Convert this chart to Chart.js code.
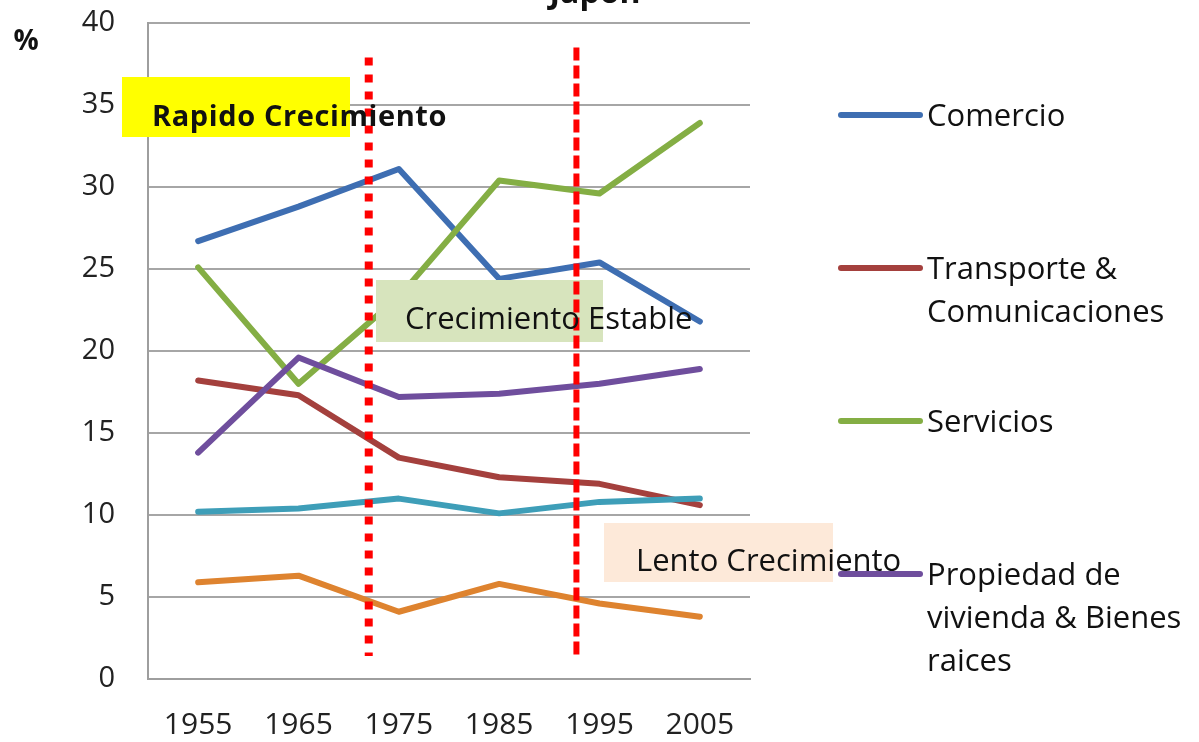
<!DOCTYPE html>
<html lang="es">
<head>
<meta charset="utf-8">
<title>Japon</title>
<script src="https://cdn.jsdelivr.net/npm/chart.js@4.4.1/dist/chart.umd.min.js"></script>
<style>
  html, body { margin: 0; padding: 0; background: #fff; }
  #wrap { width: 1199px; height: 742px; position: relative; }
</style>
</head>
<body>
<div id="wrap"><canvas id="grafico"></canvas></div>
<script>
// Participación sectorial (%) - Japón, 1955-2005
const anos = ['1955', '1965', '1975', '1985', '1995', '2005'];

const comercio   = [26.7, 28.8, 31.1, 24.4, 25.4, 21.8];
const transporte = [18.2, 17.3, 13.5, 12.3, 11.9, 10.6];
const servicios  = [25.1, 18.0, 23.3, 30.4, 29.6, 33.9];
const propiedad  = [13.8, 19.6, 17.2, 17.4, 18.0, 18.9];
const serie5     = [10.2, 10.4, 11.0, 10.1, 10.8, 11.0];
const serie6     = [5.9, 6.3, 4.1, 5.8, 4.6, 3.8];

// textos de la leyenda (solo las cuatro primeras series aparecen)
const leyenda = [
    ['Comercio'],
    ['Transporte &', 'Comunicaciones'],
    ['Servicios'],
    ['Propiedad de', 'vivienda & Bienes', 'raices']
];

// etapas marcadas en el gráfico
const etapas = ['Rapido Crecimiento', 'Crecimiento Estable', 'Lento Crecimiento'];

const colores = ['#3E6EB2', '#A4403D', '#84AE44', '#6F4E9D', '#3E9EB8', '#DE832F'];
const FUENTE = '"Open Sans", Lato, sans-serif';

function serie(label, data, i) {
    return {
        label: label,
        data: data,
        borderColor: colores[i],
        backgroundColor: colores[i],
        borderWidth: 6,
        borderCapStyle: 'round',
        borderJoinStyle: 'round',
        pointRadius: 0,
        tension: 0,
        order: 6 - i
    };
}

const anotaciones = {
    id: 'anotaciones',
    afterDatasetsDraw(chart) {
        const { ctx } = chart;
        const x = chart.scales.x, y = chart.scales.y;
        ctx.save();

        // cajas de las etapas
        ctx.fillStyle = '#FFFF00';
        ctx.fillRect(122, 77, 228, 60);
        ctx.fillStyle = '#D7E4BD';
        ctx.fillRect(376, 280, 227, 62);
        ctx.fillStyle = '#FDE9D9';
        ctx.fillRect(604, 523, 229, 59);

        // líneas rojas de corte
        ctx.strokeStyle = '#FF0000';
        ctx.lineCap = 'butt';
        ctx.lineWidth = 8;
        ctx.setLineDash([8, 9]);
        let px = x.getPixelForValue(1.7);
        ctx.beginPath();
        ctx.moveTo(px, y.getPixelForValue(37.9));
        ctx.lineTo(px, y.getPixelForValue(1.4));
        ctx.stroke();

        ctx.lineWidth = 6;
        ctx.setLineDash([13, 5]);
        px = x.getPixelForValue(3.77);
        ctx.beginPath();
        ctx.moveTo(px, y.getPixelForValue(38.5));
        ctx.lineTo(px, y.getPixelForValue(1.5));
        ctx.stroke();
        ctx.setLineDash([]);

        // textos
        ctx.fillStyle = '#111';
        ctx.textBaseline = 'alphabetic';
        ctx.textAlign = 'left';
        ctx.font = 'bold 29px ' + FUENTE;
        ctx.letterSpacing = '0.6px';
        ctx.fillText(etapas[0], 152, 126);
        ctx.letterSpacing = '0px';
        ctx.font = '31px ' + FUENTE;
        ctx.fillText(etapas[1], 405, 329);
        ctx.fillText(etapas[2], 636, 571);

        // título y unidad
        ctx.font = 'bold 32px ' + FUENTE;
        ctx.textAlign = 'center';
        ctx.fillText('Japon', 595, 3);
        ctx.font = 'bold 28px ' + FUENTE;
        ctx.fillText('%', 26, 50);

        // leyenda
        ctx.textAlign = 'left';
        ctx.font = '31px ' + FUENTE;
        ctx.lineCap = 'round';
        ctx.lineWidth = 6;
        leyenda.forEach((lineas, i) => {
            const ym = 115 + i * 153;
            ctx.strokeStyle = colores[i];
            ctx.beginPath();
            ctx.moveTo(841, ym);
            ctx.lineTo(920, ym);
            ctx.stroke();
            ctx.fillStyle = '#111';
            lineas.forEach((t, j) => ctx.fillText(t, 927, ym + 11 + j * 43));
        });
        ctx.restore();
    }
};

function initGrafico() {
    const ctx = document.getElementById('grafico').getContext('2d');
    new Chart(ctx, {
        type: 'line',
        data: {
            labels: anos,
            datasets: [
                serie(leyenda[0].join(' '), comercio, 0),
                serie(leyenda[1].join(' '), transporte, 1),
                serie(leyenda[2].join(' '), servicios, 2),
                serie(leyenda[3].join(' '), propiedad, 3),
                serie('Serie 5', serie5, 4),
                serie('Serie 6', serie6, 5)
            ]
        },
        options: {
            responsive: true,
            maintainAspectRatio: false,
            animation: false,
            layout: { padding: { left: 0, top: 23, right: 449, bottom: 0 } },
            plugins: {
                legend: { display: false },
                title: { display: false },
                tooltip: { enabled: false }
            },
            scales: {
                x: {
                    offset: true,
                    grid: { display: false, drawTicks: false },
                    border: { display: true, color: '#9E9E9E', width: 2 },
                    ticks: { color: '#222', padding: 28, font: { family: FUENTE, size: 30 } },
                    afterFit(s) { s.height = 63; }
                },
                y: {
                    min: 0,
                    max: 40,
                    ticks: { stepSize: 5, color: '#222', padding: 33, font: { family: FUENTE, size: 29 } },
                    grid: { color: '#A6A6A6', lineWidth: 2, drawTicks: false },
                    border: { display: true, color: '#9E9E9E', width: 2 },
                    afterFit(s) {
                        s.width = 148;
                        s.paddingTop = 0;
                        s.paddingBottom = 0;
                    }
                }
            }
        },
        plugins: [anotaciones]
    });
}

document.addEventListener('DOMContentLoaded', initGrafico);
</script>
</body>
</html>
